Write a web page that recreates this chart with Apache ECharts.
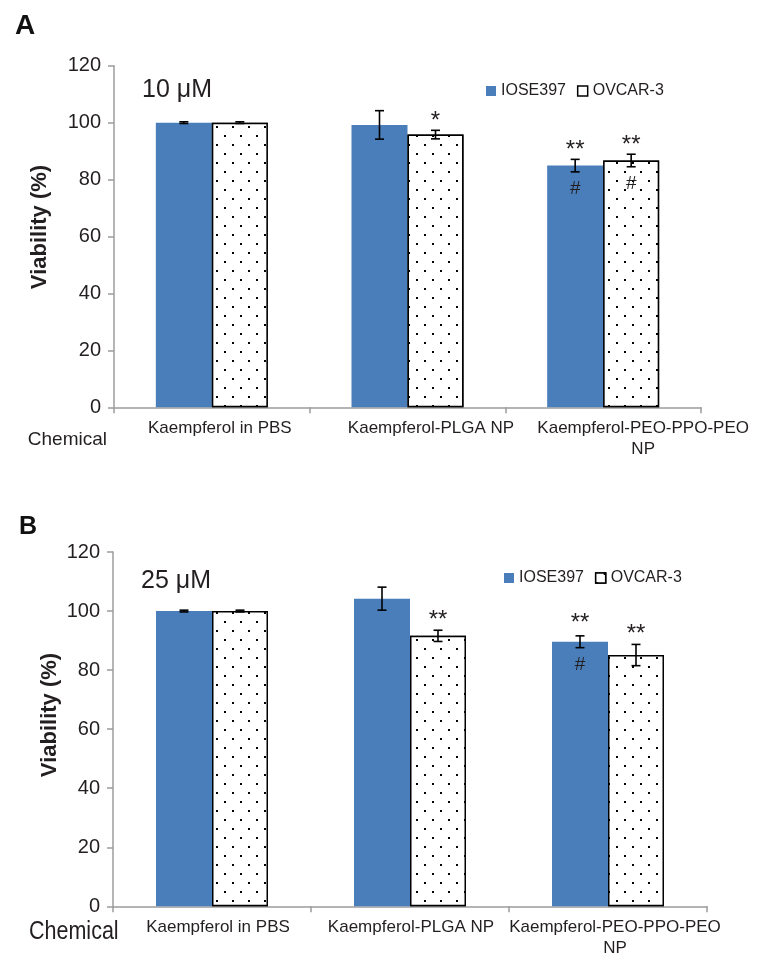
<!DOCTYPE html>
<html><head><meta charset="utf-8">
<script src="https://cdn.jsdelivr.net/npm/echarts@6/dist/echarts.min.js"></script>
<style>html,body{margin:0;padding:0;background:#fff}#c{width:764px;height:966px}</style>
</head><body><div id="c"></div>
<script>
// ---- data ----
const categories = ['Kaempferol in PBS', 'Kaempferol-PLGA NP', 'Kaempferol-PEO-PPO-PEO\nNP'];
const yTicks = [0, 20, 40, 60, 80, 100, 120];
const seriesNames = ['IOSE397', 'OVCAR-3'];
const panelTitles = ['10 μM', '25 μM'];
const panelLetters = ['A', 'B'];

// Panel A (10 μM)
const a_IOSE397 = [100, 99.2, 84.9];
const a_IOSE397_err = [0.3, 5.0, 2.2];
const a_OVCAR3 = [100, 95.8, 86.7];
const a_OVCAR3_err = [0.3, 1.5, 2.2];
const a_IOSE397_star = ['', '', '**'];
const a_IOSE397_hash = ['', '', '#'];
const a_OVCAR3_star = ['', '*', '**'];
const a_OVCAR3_hash = ['', '', '#'];

// Panel B (25 μM)
const b_IOSE397 = [100, 104.2, 89.6];
const b_IOSE397_err = [0.3, 3.9, 2.0];
const b_OVCAR3 = [100, 91.6, 85.1];
const b_OVCAR3_err = [0.3, 1.9, 3.6];
const b_IOSE397_star = ['', '', '**'];
const b_IOSE397_hash = ['', '', '#'];
const b_OVCAR3_star = ['', '**', '**'];
const b_OVCAR3_hash = ['', '', ''];

// ---- style ----
const FONT = '"Liberation Sans", Arial, sans-serif';
const TXT = '#231f20';
const AXIS = '#9c9c9c';
const BLUE = '#4a7ebb';
const BARW = 56;

const chart = echarts.init(document.getElementById('c'), null, {renderer: 'canvas'});

const dotDecal = {
  symbol: 'rect', symbolSize: 1, color: '#000', backgroundColor: '#fff',
  dashArrayX: [[2, 14], [0, 8, 2, 6]], dashArrayY: [2, 7], rotation: 0
};

function xAxisCfg(gi, shifts) {
  const rich = {};
  shifts.forEach((s, i) => {
    rich['o' + i] = {padding: [0, 0, 0, s], fontSize: 17, lineHeight: 21, fontFamily: FONT, color: TXT};
  });
  return {
    type: 'category', gridIndex: gi, data: categories,
    axisLine: {lineStyle: {color: AXIS, width: 1.5}},
    axisTick: {show: true, length: 6, lineStyle: {color: AXIS, width: 1.5}},
    axisLabel: {
      interval: 0, margin: 11, fontSize: 17, lineHeight: 21, fontFamily: FONT, color: TXT,
      formatter: (v, i) => v.split('\n').map(l => '{o' + i + '|' + l + '}').join('\n'),
      rich
    },
    splitLine: {show: false}
  };
}
function yAxisCfg(gi) {
  return {
    type: 'value', gridIndex: gi, min: yTicks[0], max: yTicks[yTicks.length - 1],
    interval: yTicks[1] - yTicks[0],
    axisLine: {show: true, lineStyle: {color: AXIS, width: 1.5}},
    axisTick: {show: true, length: 6, lineStyle: {color: AXIS, width: 1.5}},
    axisLabel: {margin: 13, fontSize: 20, fontFamily: FONT, color: TXT},
    splitLine: {show: false}
  };
}
function barSeries(gi, name, data) {
  const isBlue = name === seriesNames[0];
  return {
    type: 'bar', name, xAxisIndex: gi, yAxisIndex: gi, data,
    barWidth: BARW, barGap: '0%',
    itemStyle: isBlue ? {color: BLUE} :
      {color: '#fff', borderColor: '#000', borderWidth: 1.5, decal: dotDecal},
    emphasis: {disabled: true}, silent: true
  };
}
function errSeries(gi, name, vals, errs, stars, hashes, dx, starOff) {
  return {
    type: 'custom', name: name + ' err', xAxisIndex: gi, yAxisIndex: gi, z: 5, silent: true,
    data: vals.map((v, i) => [i, v, errs[i]]),
    renderItem(params, api) {
      const i = api.value(0), v = api.value(1), e = api.value(2);
      const top = api.coord([i, v + e]), bot = api.coord([i, v - e]);
      const x = top[0] + dx;
      const cap = 4.5;
      const ls = {stroke: '#000', lineWidth: 1.6};
      const ch = [
        {type: 'line', shape: {x1: x, y1: top[1], x2: x, y2: bot[1]}, style: ls},
        {type: 'line', shape: {x1: x - cap, y1: top[1], x2: x + cap, y2: top[1]}, style: ls},
        {type: 'line', shape: {x1: x - cap, y1: bot[1], x2: x + cap, y2: bot[1]}, style: ls}
      ];
      if (stars[i]) ch.push({type: 'text', style: {text: stars[i], x: x, y: top[1] - starOff,
        align: 'center', verticalAlign: 'middle', fontSize: 24, fontFamily: FONT, fill: TXT}});
      if (hashes[i]) ch.push({type: 'text', style: {text: hashes[i], x: x, y: bot[1] + 17,
        align: 'center', verticalAlign: 'middle', fontSize: 19, fontFamily: FONT, fill: TXT}});
      return {type: 'group', children: ch};
    }
  };
}
function legendCfg(left, top, decal) {
  return {
    left, top, padding: 0, itemWidth: 10, itemHeight: 10, itemGap: 11, icon: 'rect',
    selectedMode: false,
    textStyle: {fontSize: 16, fontFamily: FONT, color: TXT},
    data: [
      {name: seriesNames[0], itemStyle: {color: BLUE}},
      {name: seriesNames[1], itemStyle: {color: '#fff', borderColor: '#000', borderWidth: 1.5,
        decal: decal ? dotDecal : 'none'}}
    ]
  };
}
function txt(x, y, text, size, opts) {
  const o = opts || {};
  const el = {type: 'text', x, y, silent: true,
    style: Object.assign({text, fontSize: size, fontFamily: FONT, fill: TXT,
      align: 'left', verticalAlign: 'middle'}, o.style || {})};
  if (o.rotation !== undefined) el.rotation = o.rotation;
  if (o.scaleX !== undefined) el.scaleX = o.scaleX;
  return el;
}

const option = {
  backgroundColor: '#fff',
  animation: false,
  grid: [
    {left: 114, right: 63, top: 65.7, height: 341.6},
    {left: 113, right: 57, top: 552, height: 354.3}
  ],
  xAxis: [xAxisCfg(0, [16, 47, 80]), xAxisCfg(1, [12, 2, 14])],
  yAxis: [yAxisCfg(0), yAxisCfg(1)],
  legend: [legendCfg(486, 83, false), legendCfg(504, 570, true)],
  series: [
    barSeries(0, seriesNames[0], a_IOSE397),
    barSeries(0, seriesNames[1], a_OVCAR3),
    errSeries(0, seriesNames[0], a_IOSE397, a_IOSE397_err, a_IOSE397_star, a_IOSE397_hash, -BARW / 2, 9),
    errSeries(0, seriesNames[1], a_OVCAR3, a_OVCAR3_err, a_OVCAR3_star, a_OVCAR3_hash, BARW / 2, 9),
    barSeries(1, seriesNames[0], b_IOSE397),
    barSeries(1, seriesNames[1], b_OVCAR3),
    errSeries(1, seriesNames[0], b_IOSE397, b_IOSE397_err, b_IOSE397_star, b_IOSE397_hash, -BARW / 2, 12),
    errSeries(1, seriesNames[1], b_OVCAR3, b_OVCAR3_err, b_OVCAR3_star, b_OVCAR3_hash, BARW / 2, 10)
  ],
  graphic: [
    txt(15, 26, panelLetters[0], 28, {style: {fontWeight: 'bold', fill: '#111'}}),
    txt(19, 527, panelLetters[1], 25, {style: {fontWeight: 'bold', fill: '#111'}}),
    txt(142, 90, panelTitles[0], 25),
    txt(141, 581, panelTitles[1], 25),
    txt(40, 227, 'Viability (%)', 22, {rotation: Math.PI / 2, style: {fontWeight: 'bold', align: 'center'}}),
    txt(50, 715, 'Viability (%)', 22, {rotation: Math.PI / 2, style: {fontWeight: 'bold', align: 'center'}}),
    txt(107, 440, 'Chemical', 19, {style: {align: 'right'}}),
    txt(29, 932, 'Chemical', 25, {scaleX: 0.86})
  ]
};
chart.setOption(option);
</script>
</body></html>
